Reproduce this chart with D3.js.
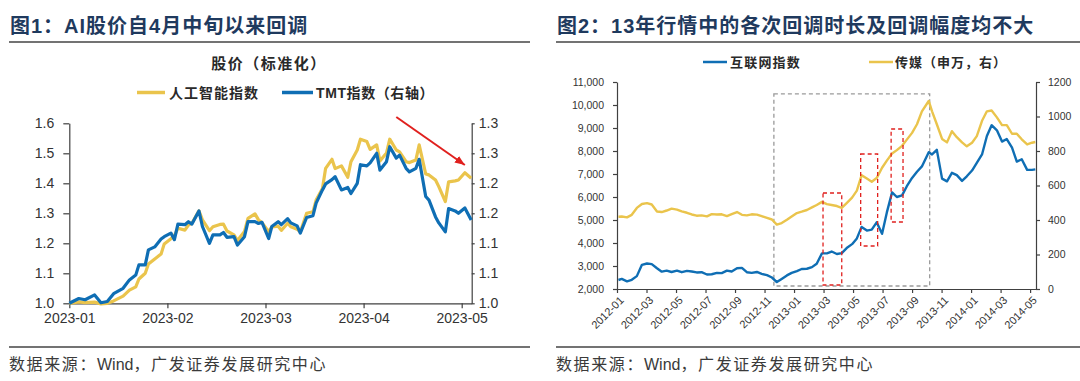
<!DOCTYPE html>
<html><head><meta charset="utf-8">
<script src="https://cdn.jsdelivr.net/npm/d3@7"></script>
<style>
body{margin:0;background:#fff;}
svg{display:block;font-family:"Liberation Sans","Noto Sans CJK SC",sans-serif;}
</style></head><body>
<svg id="c" width="1080" height="381"></svg>
<script>
// ---------------- Chart 1 data ----------------
const dates1 = ["2023-01-01","2023-01-04","2023-01-06","2023-01-09","2023-01-11","2023-01-13","2023-01-15","2023-01-18","2023-01-20","2023-01-22","2023-01-23","2023-01-25","2023-01-26","2023-01-28","2023-01-30","2023-01-31",
"2023-02-02","2023-02-03","2023-02-04","2023-02-06","2023-02-07","2023-02-08","2023-02-10","2023-02-11","2023-02-13","2023-02-14","2023-02-16","2023-02-17","2023-02-18","2023-02-20","2023-02-21","2023-02-23","2023-02-24","2023-02-26","2023-02-27","2023-02-28",
"2023-03-02","2023-03-03","2023-03-05","2023-03-06","2023-03-08","2023-03-09","2023-03-11","2023-03-12","2023-03-14","2023-03-16","2023-03-17","2023-03-19","2023-03-20","2023-03-22","2023-03-23","2023-03-25","2023-03-27","2023-03-28","2023-03-30","2023-03-31",
"2023-04-02","2023-04-03","2023-04-05","2023-04-06","2023-04-08","2023-04-09","2023-04-11","2023-04-12","2023-04-14","2023-04-15","2023-04-17","2023-04-18","2023-04-20","2023-04-21","2023-04-23","2023-04-24","2023-04-26","2023-04-27","2023-04-29","2023-04-30",
"2023-05-02","2023-05-04"];
const aiIndex = [1.000,1.005,1.002,1.004,0.998,1.000,1.008,1.024,1.044,1.055,1.081,1.100,1.131,1.148,1.164,1.198,
1.215,1.225,1.250,1.244,1.261,1.267,1.308,1.278,1.242,1.255,1.263,1.264,1.241,1.228,1.209,1.239,1.283,1.298,1.278,1.269,
1.239,1.255,1.257,1.243,1.267,1.255,1.247,1.238,1.300,1.305,1.344,1.383,1.450,1.480,1.449,1.458,1.420,1.472,1.511,1.547,
1.539,1.513,1.528,1.474,1.501,1.547,1.511,1.505,1.472,1.469,1.478,1.528,1.431,1.428,1.411,1.389,1.339,1.405,1.408,1.411,
1.435,1.417];
const tmtIndex = [1.000,1.008,1.006,1.014,1.001,1.003,1.016,1.025,1.039,1.047,1.064,1.064,1.089,1.094,1.107,1.111,
1.117,1.106,1.132,1.131,1.136,1.132,1.154,1.128,1.100,1.114,1.114,1.118,1.110,1.111,1.097,1.111,1.136,1.136,1.133,1.135,
1.108,1.128,1.136,1.131,1.141,1.134,1.129,1.117,1.143,1.146,1.167,1.189,1.199,1.206,1.211,1.189,1.193,1.183,1.200,1.231,
1.229,1.234,1.250,1.222,1.236,1.261,1.242,1.247,1.225,1.219,1.225,1.240,1.178,1.172,1.144,1.134,1.119,1.158,1.154,1.150,
1.159,1.139];
const xTicks1 = ["2023-01","2023-02","2023-03","2023-04","2023-05"];
const leftTicks1 = [1.0,1.1,1.2,1.3,1.4,1.5,1.6];
const leftTickLabels1 = ["1.0","1.1","1.2","1.3","1.4","1.5","1.6"];
const rightTicks1 = [1.0,1.05,1.1,1.15,1.2,1.25,1.3];
const rightTickLabels1 = ["1.0","1.1","1.1","1.2","1.2","1.3","1.3"];
const arrow1 = [{date:"2023-04-11", value:1.621},{date:"2023-05-02", value:1.461}];

// ---------------- Chart 2 data ----------------
const dates2 = ["2012-01-04","2012-01-11","2012-01-22","2012-02-01","2012-02-11","2012-02-21","2012-03-02","2012-03-12","2012-03-23","2012-04-02","2012-04-12","2012-04-22",
"2012-05-03","2012-05-13","2012-05-24","2012-06-03","2012-06-13","2012-06-23","2012-07-04","2012-07-14","2012-07-25","2012-08-04","2012-08-15","2012-08-25",
"2012-09-05","2012-09-15","2012-09-25","2012-10-05","2012-10-16","2012-10-26","2012-11-06","2012-11-16","2012-11-26","2012-12-06","2012-12-17","2012-12-27",
"2013-01-07","2013-01-17","2013-01-28","2013-02-07","2013-02-16","2013-02-26","2013-03-08","2013-03-18","2013-03-29","2013-04-08","2013-04-18","2013-04-29",
"2013-05-09","2013-05-19","2013-05-30","2013-06-09","2013-06-19","2013-06-30","2013-07-10","2013-07-21","2013-07-31","2013-08-11","2013-08-21","2013-09-01",
"2013-09-11","2013-09-21","2013-10-05","2013-10-12","2013-10-22","2013-11-02","2013-11-12","2013-11-22","2013-12-02","2013-12-13","2013-12-23",
"2014-01-03","2014-01-13","2014-01-24","2014-02-03","2014-02-12","2014-02-22","2014-03-04","2014-03-14","2014-03-25","2014-04-04","2014-04-14","2014-04-25","2014-05-05","2014-05-12"];
const internetIndex = [2391,2440,2333,2400,2560,3050,3110,3080,2900,2754,2800,2740,
2800,2730,2790,2760,2720,2730,2630,2640,2700,2690,2800,2760,
2900,2920,2730,2700,2740,2660,2600,2500,2300,2440,2590,2700,
2780,2870,2880,2950,3100,3550,3550,3630,3520,3560,3780,3950,
4200,4700,4540,4580,4900,4400,5330,6200,6000,6070,6470,6830,
7100,7330,7950,7850,8050,6800,6680,7050,6950,6700,6900,
7150,7480,7850,8650,9120,8900,8410,8520,8150,7540,7640,7180,7180,7200];
const mediaIndex = [419,420,415,430,470,493,498,490,449,446,455,466,
460,450,442,432,425,427,421,434,432,433,423,434,
446,430,427,433,431,422,412,403,373,382,401,420,
440,448,458,473,487,505,492,487,481,470,498,530,
570,660,640,622,643,703,744,785,805,830,866,905,
955,1030,1090,1030,955,870,850,915,880,850,827,
848,886,975,1030,1035,995,950,950,900,900,868,838,848,852];
const xTicks2 = ["2012-01","2012-03","2012-05","2012-07","2012-09","2012-11","2013-01","2013-03","2013-05","2013-07","2013-09","2013-11","2014-01","2014-03","2014-05"];
const leftTicks2 = [2000,3000,4000,5000,6000,7000,8000,9000,10000,11000];
const rightTicks2 = [0,200,400,600,800,1000,1200];
const grayBox2 = {start:"2012-11-20", end:"2013-10-07", low:2130, high:10480};
const redBoxes2 = [
  {start:"2013-02-28", end:"2013-04-08", low:2174, high:6174},
  {start:"2013-05-17", end:"2013-06-21", low:3870, high:7870},
  {start:"2013-07-19", end:"2013-08-13", low:4913, high:8957}
];

// ---------------- helpers ----------------
function monthPos(s, baseY, baseM){
  const p = s.split("-").map(Number);
  const y=p[0], m=p[1], d=p.length>2?p[2]:1;
  const dim = new Date(y, m, 0).getDate();
  return (y-baseY)*12 + (m-baseM) + (d-1)/dim;
}
const YELLOW = "#EAC44C", BLUE = "#0F6EB4", RED = "#E0201E";
const AX = "#404040", TXT = "#333333", TITLE = "#1f3a5e";

const svg = d3.select("#c");
svg.append("rect").attr("width",1080).attr("height",381).attr("fill","#fff");
const defs = svg.append("defs");
defs.append("marker").attr("id","arr").attr("viewBox","0 0 10 8").attr("refX",10).attr("refY",4)
  .attr("markerWidth",10).attr("markerHeight",8).attr("markerUnits","userSpaceOnUse").attr("orient","auto")
  .append("path").attr("d","M0,0 L10,4 L0,8 z").attr("fill",RED);

function styleAxis(g, fs){
  g.selectAll("path.domain").attr("stroke",AX).attr("stroke-width",1.2);
  g.selectAll(".tick line").attr("stroke",AX).attr("stroke-width",1.2);
  g.selectAll(".tick text").attr("fill",TXT).style("font-size",fs+"px").style("font-family","'Liberation Sans',Arial,sans-serif");
}

// ---------------- Panel headers ----------------
function header(x0, x1, title){
  svg.append("text").attr("x",x0+1).attr("y",33).attr("fill",TITLE)
    .style("font-size","20px").style("font-weight","bold").style("letter-spacing","1px").text(title);
  svg.append("line").attr("x1",x0).attr("x2",x1).attr("y1",42).attr("y2",42).attr("stroke","#444").attr("stroke-width",1.6);
  svg.append("line").attr("x1",x0).attr("x2",x1).attr("y1",347).attr("y2",347).attr("stroke","#444").attr("stroke-width",1.6);
  const src = svg.append("text").attr("x",x0).attr("y",370).attr("fill","#3a3a3a").style("font-size","16px");
  src.append("tspan").style("letter-spacing","1.6px").text("数据来源：");
  src.append("tspan").style("letter-spacing","0px").text("Wind");
  src.append("tspan").style("letter-spacing","1.6px").text("，广发证券发展研究中心");
}
header(9, 530, "图1：AI股价自4月中旬以来回调");
header(556, 1080, "图2：13年行情中的各次回调时长及回调幅度均不大");

// ---------------- Chart 1 ----------------
const base1 = [2023,1];
const x1 = d3.scaleLinear().domain([0,4.102]).range([69.3,471.7]);
const yL1 = d3.scaleLinear().domain([1.0,1.6]).range([303.3,123.3]);
const yR1 = d3.scaleLinear().domain([1.0,1.3]).range([303.3,123.3]);

svg.append("text").attr("x",269).attr("y",69).attr("text-anchor","middle").attr("fill","#2a2a2a")
  .style("font-size","15px").style("font-weight","bold").style("letter-spacing","1.5px").text("股价（标准化）");
// legend 1
svg.append("line").attr("x1",137).attr("x2",165).attr("y1",92.5).attr("y2",92.5).attr("stroke",YELLOW).attr("stroke-width",3.5);
svg.append("text").attr("x",169).attr("y",97.5).attr("fill","#2a2a2a").style("font-size","14px").style("font-weight","bold").style("letter-spacing","1px").text("人工智能指数");
svg.append("line").attr("x1",282).attr("x2",313).attr("y1",92.5).attr("y2",92.5).attr("stroke",BLUE).attr("stroke-width",3.5);
svg.append("text").attr("x",316).attr("y",97.5).attr("fill","#2a2a2a").style("font-size","14px").style("font-weight","bold").style("letter-spacing","0.6px").text("TMT指数（右轴）");

const gx1 = svg.append("g").attr("transform","translate(0,303.3)")
  .call(d3.axisBottom(x1).tickValues(xTicks1.map(t=>monthPos(t,...base1))).tickFormat((d,i)=>xTicks1[i]).tickSize(5).tickSizeOuter(0).tickPadding(5));
styleAxis(gx1,14);
const gl1 = svg.append("g").attr("transform","translate(69.3,0)")
  .call(d3.axisLeft(yL1).tickValues(leftTicks1).tickFormat((d,i)=>leftTickLabels1[i]).tickSize(6).tickSizeOuter(0).tickPadding(9));
styleAxis(gl1,14);
const gr1 = svg.append("g").attr("transform","translate(471.7,0)")
  .call(d3.axisRight(yR1).tickValues(rightTicks1).tickFormat((d,i)=>rightTickLabels1[i]).tickSize(3).tickSizeOuter(0).tickPadding(4));
styleAxis(gr1,14);

const line1Y = d3.line().x((d,i)=>x1(monthPos(dates1[i],...base1))).y(d=>yL1(d)).curve(d3.curveLinear);
const line1B = d3.line().x((d,i)=>x1(monthPos(dates1[i],...base1))).y(d=>yR1(d)).curve(d3.curveLinear);
svg.append("path").attr("d",line1Y(aiIndex)).attr("fill","none").attr("stroke",YELLOW).attr("stroke-width",3.2).attr("stroke-linejoin","round");
svg.append("path").attr("d",line1B(tmtIndex)).attr("fill","none").attr("stroke",BLUE).attr("stroke-width",3.2).attr("stroke-linejoin","round");

svg.append("line")
  .attr("x1",x1(monthPos(arrow1[0].date,...base1))).attr("y1",yL1(arrow1[0].value))
  .attr("x2",x1(monthPos(arrow1[1].date,...base1))).attr("y2",yL1(arrow1[1].value))
  .attr("stroke",RED).attr("stroke-width",2).attr("marker-end","url(#arr)");

// ---------------- Chart 2 ----------------
const base2 = [2012,1];
const x2 = d3.scaleLinear().domain([0,28.4]).range([617,1036]);
const yL2 = d3.scaleLinear().domain([2000,11000]).range([289,82]);
const yR2 = d3.scaleLinear().domain([0,1200]).range([289,82]);

// legend 2
svg.append("line").attr("x1",703).attr("x2",727).attr("y1",62).attr("y2",62).attr("stroke",BLUE).attr("stroke-width",2.5);
svg.append("text").attr("x",730).attr("y",66.5).attr("fill","#2a2a2a").style("font-size","13px").style("font-weight","bold").style("letter-spacing","1.2px").text("互联网指数");
svg.append("line").attr("x1",869).attr("x2",893).attr("y1",62).attr("y2",62).attr("stroke",YELLOW).attr("stroke-width",2.5);
svg.append("text").attr("x",895).attr("y",66.5).attr("fill","#2a2a2a").style("font-size","13px").style("font-weight","bold").style("letter-spacing","1px").text("传媒（申万，右）");

const gx2 = svg.append("g").attr("transform","translate(0,289)")
  .call(d3.axisBottom(x2).tickValues(xTicks2.map(t=>monthPos(t,...base2))).tickFormat((d,i)=>xTicks2[i]).tickSize(4).tickSizeOuter(0));
styleAxis(gx2,11);
gx2.selectAll(".tick text").attr("x",0).attr("y",0).attr("dy",0).attr("text-anchor","end")
  .attr("transform","translate(7,12) rotate(-45)");
const gl2 = svg.append("g").attr("transform","translate(617,0)")
  .call(d3.axisLeft(yL2).tickValues(leftTicks2).tickFormat(d3.format(",")).tickSize(4).tickSizeOuter(0).tickPadding(9));
styleAxis(gl2,10.5);
const gr2 = svg.append("g").attr("transform","translate(1036,0)")
  .call(d3.axisRight(yR2).tickValues(rightTicks2).tickFormat(d=>String(d)).tickSize(4).tickSizeOuter(0).tickPadding(8));
styleAxis(gr2,10.5);

// boxes
svg.append("rect")
  .attr("x",x2(monthPos(grayBox2.start,...base2))).attr("y",yL2(grayBox2.high))
  .attr("width",x2(monthPos(grayBox2.end,...base2))-x2(monthPos(grayBox2.start,...base2)))
  .attr("height",yL2(grayBox2.low)-yL2(grayBox2.high))
  .attr("fill","none").attr("stroke","#9a9a9a").attr("stroke-width",1.3).attr("stroke-dasharray","4,3");

const line2B = d3.line().x((d,i)=>x2(monthPos(dates2[i],...base2))).y(d=>yL2(d));
const line2Y = d3.line().x((d,i)=>x2(monthPos(dates2[i],...base2))).y(d=>yR2(d));
svg.append("path").attr("d",line2Y(mediaIndex)).attr("fill","none").attr("stroke",YELLOW).attr("stroke-width",2.4).attr("stroke-linejoin","round");
svg.append("path").attr("d",line2B(internetIndex)).attr("fill","none").attr("stroke",BLUE).attr("stroke-width",2.4).attr("stroke-linejoin","round");

svg.selectAll("rect.red").data(redBoxes2).enter().append("rect").attr("class","red")
  .attr("x",d=>x2(monthPos(d.start,...base2))).attr("y",d=>yL2(d.high))
  .attr("width",d=>x2(monthPos(d.end,...base2))-x2(monthPos(d.start,...base2)))
  .attr("height",d=>yL2(d.low)-yL2(d.high))
  .attr("fill","none").attr("stroke",RED).attr("stroke-width",1.3).attr("stroke-dasharray","4,3");
</script></body></html>
